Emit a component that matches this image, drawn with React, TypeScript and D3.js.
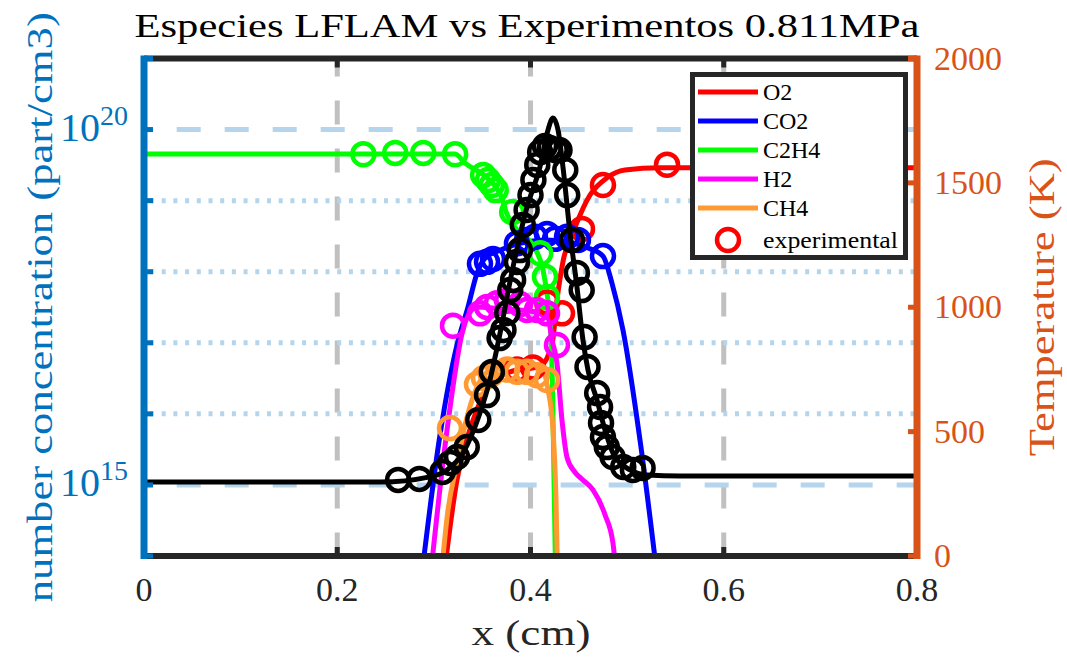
import React from "react";
import * as d3 from "d3";

// ---- model profiles (x in cm, number concentration in part/cm3) ----
const xO2 = [0.3074, 0.3239, 0.3405, 0.3581, 0.3788, 0.4098, 0.4222, 0.4274, 0.4336, 0.446, 0.4616, 0.4792, 0.4978, 0.534, 0.8];
const nO2 = [2.4e13, 1.17e15, 8.1e15, 2.6e16, 3.9e16, 4.7e16, 9.3e16, 4.0e17, 1.38e18, 4.2e18, 1.2e19, 2.1e19, 2.7e19, 2.9e19, 2.9e19];

const xCO2 = [0.2856, 0.3063, 0.3239, 0.3353, 0.3446, 0.3529, 0.3684, 0.3891, 0.415, 0.441, 0.4616, 0.475, 0.4843, 0.4957, 0.5133, 0.534];
const nCO2 = [3.3e13, 5.0e15, 9.3e16, 3.18e17, 9.5e17, 1.55e18, 2.0e18, 2.5e18, 2.8e18, 2.6e18, 2.1e18, 1.66e18, 6.9e17, 1.51e17, 4.3e15, 2.4e13];

const xC2H4 = [0, 0.322, 0.332, 0.355, 0.369, 0.376, 0.386, 0.402, 0.413, 0.418, 0.421, 0.423, 0.4264];
const nC2H4 = [4.53e19, 4.53e19, 3.39e19, 2.09e19, 1.2e19, 6.3e18, 3.89e18, 2.4e18, 1.05e18, 3.98e17, 1.51e17, 1.58e16, 2.4e13];

const xH2 = [0.2939, 0.3136, 0.33, 0.3374, 0.3446, 0.3684, 0.3995, 0.4181, 0.4222, 0.4274, 0.4326, 0.4378, 0.446, 0.4533, 0.4647, 0.4771, 0.4854, 0.4906];
const nH2 = [2.4e13, 5.9e15, 1.51e17, 2.7e17, 3.2e17, 3.0e17, 2.8e17, 2.2e17, 1.1e17, 5.2e16, 8.1e15, 2.45e15, 1.51e15, 1.2e15, 8.5e14, 3.8e14, 1.5e14, 2.4e13];

const xCH4 = [0.3053, 0.3146, 0.3239, 0.3322, 0.3405, 0.3581, 0.3819, 0.4098, 0.4181, 0.4233, 0.4264, 0.4285];
const nCH4 = [2.4e13, 4.4e14, 2.0e15, 6.9e15, 1.72e16, 4.2e16, 5.4e16, 4.7e16, 2.2e16, 5.9e15, 6.1e14, 2.4e13];

// ---- model temperature (K) ----
const xT = [0, 0.2442, 0.296, 0.3136, 0.33, 0.3477, 0.358, 0.3664, 0.3819, 0.3964, 0.4098, 0.4181, 0.4233, 0.4285, 0.4336, 0.4409, 0.4481, 0.4543, 0.4595, 0.4688, 0.4771, 0.4854, 0.503, 0.5206, 0.5547, 0.8];
const tT = [297, 297, 318, 346, 414, 575, 708, 856, 1162, 1403, 1564, 1713, 1761, 1713, 1564, 1298, 1081, 868, 748, 627, 507, 414, 346, 326, 322, 322];

// ---- experimental points ----
const exO2 = [0.386, 0.4026, 0.4171, 0.4326, 0.4533, 0.475, 0.5413];
const eyO2 = [4.2e16, 4.5e16, 3.7e17, 2.6e17, 4.0e18, 1.66e19, 3.2e19];

const exCO2 = [0.3477, 0.355, 0.3612, 0.386, 0.3964, 0.4046, 0.4171, 0.4254, 0.4378, 0.4491, 0.475];
const eyCO2 = [1.29e18, 1.38e18, 1.51e18, 2.5e18, 2.8e18, 3.1e18, 3.4e18, 2.9e18, 3.1e18, 2.8e18, 1.66e18];

const exC2H4 = [0.227, 0.26, 0.289, 0.322, 0.351, 0.356, 0.36, 0.364, 0.381, 0.41, 0.415, 0.417];
const eyC2H4 = [4.5e19, 4.7e19, 4.7e19, 4.5e19, 2.3e19, 1.95e19, 1.66e19, 1.41e19, 6.9e18, 1.82e18, 8.5e17, 4.4e17];

const exH2 = [0.3198, 0.3477, 0.355, 0.3653, 0.3757, 0.3891, 0.3964, 0.4067, 0.4171, 0.4274];
const eyH2 = [1.74e17, 2.6e17, 3.2e17, 3.6e17, 3.9e17, 3.5e17, 2.9e17, 2.9e17, 2.6e17, 9.3e16];

const exCH4 = [0.3167, 0.3446, 0.3519, 0.3591, 0.3757, 0.386, 0.3964, 0.4067, 0.4171];
const eyCH4 = [6.3e15, 2.6e16, 3.2e16, 3.6e16, 4.2e16, 3.9e16, 3.9e16, 3.5e16, 3.0e16];

const exT = [0.263, 0.285, 0.309, 0.317, 0.324, 0.334, 0.346, 0.355, 0.36, 0.368, 0.372, 0.376, 0.379, 0.382, 0.386, 0.389, 0.392, 0.396, 0.4, 0.403, 0.407, 0.41, 0.415, 0.42, 0.426, 0.43, 0.436, 0.438, 0.443, 0.448, 0.453, 0.456, 0.459, 0.469, 0.472, 0.473, 0.475, 0.479, 0.485, 0.496, 0.506, 0.516];
const eyT = [306, 310, 338, 374, 398, 438, 547, 647, 740, 876, 909, 977, 1069, 1110, 1182, 1230, 1331, 1391, 1451, 1512, 1572, 1624, 1648, 1640, 1632, 1632, 1552, 1451, 1270, 1138, 1069, 880, 760, 655, 599, 535, 478, 438, 398, 358, 346, 354];

// ---- axes ----
const xTicks = [0, 0.2, 0.4, 0.6, 0.8];
const xTickLabels = ["0", "0.2", "0.4", "0.6", "0.8"];
const leftDecades = [14, 15, 16, 17, 18, 19, 20, 21];
const leftLabeled = [15, 20];
const rightTicks = [0, 500, 1000, 1500, 2000];

const speciesNames = ["O2", "CO2", "C2H4", "H2", "CH4"];
const speciesColors = ["#ff0000", "#0000ff", "#00ff00", "#ff00ff", "#ff9933"];

const L = 144, R = 917, T = 58.5, B = 556;
const BLUE = "#0072BD";
const ORANGE = "#D95319";
const AXIS = "#262626";
const FONT = "'Liberation Serif', 'Times New Roman', serif";

export default function App() {
  const x = d3.scaleLinear().domain([0, 0.8]).range([L, R]);
  const yL = d3.scaleLog().domain([1e14, 1e21]).range([B, T]);
  const yR = d3.scaleLinear().domain([0, 2000]).range([B, T]);

  const lineOf = (xs: number[], ys: number[], ys2: (v: number) => number) =>
    d3.line<number>()
      .x((i) => x(xs[i]))
      .y((i) => ys2(ys[i]))
      .curve(d3.curveMonotoneX)(xs.map((_, i) => i)) || "";

  const models = [
    [xO2, nO2], [xCO2, nCO2], [xC2H4, nC2H4], [xH2, nH2], [xCH4, nCH4],
  ] as [number[], number[]][];
  const exps = [
    [exO2, eyO2], [exCO2, eyCO2], [exC2H4, eyC2H4], [exH2, eyH2], [exCH4, eyCH4],
  ] as [number[], number[]][];

  const MR = 11;
  const MW = 4.5;
  const LW = 5;

  return (
    <svg width={1067} height={666} style={{ display: "block", position: "absolute", left: 0, top: 0, background: "#fff" }}>
      <defs>
        <clipPath id="plotClip">
          <rect x={L} y={T} width={R - L} height={B - T} />
        </clipPath>
      </defs>
      <rect width={1067} height={666} fill="#fff" />

      {/* grid */}
      {xTicks.slice(1, -1).map((v) => (
        <line key={"vg" + v} x1={x(v)} x2={x(v)} y1={T} y2={B} stroke="#c0c0c0" strokeWidth={5}
          strokeDasharray="24 24" strokeDashoffset={6} />
      ))}
      {leftDecades.slice(1, -1).map((d) => {
        const major = leftLabeled.includes(d);
        return (
          <line key={"hg" + d} x1={L} x2={R} y1={yL(Math.pow(10, d))} y2={yL(Math.pow(10, d))}
            stroke="#b4d5eb" strokeWidth={5}
            strokeDasharray={major ? "24 24" : "4 7.7"}
            strokeDashoffset={major ? 15.3 : -6} />
        );
      })}

      {/* model curves */}
      <g clipPath="url(#plotClip)" fill="none" strokeLinejoin="round">
        {models.map(([xs, ys], i) => (
          <path key={"m" + i} d={lineOf(xs, ys, yL)} stroke={speciesColors[i]} strokeWidth={LW} />
        ))}
      </g>

      {/* experimental species */}
      <g fill="none" strokeWidth={MW}>
        {exps.map(([xs, ys], i) =>
          xs.map((v, j) => (
            <circle key={"e" + i + "-" + j} cx={x(v)} cy={yL(ys[j])} r={MR} stroke={speciesColors[i]} />
          ))
        )}
      </g>

      {/* temperature */}
      <g clipPath="url(#plotClip)">
        <path d={lineOf(xT, tT, yR)} fill="none" stroke="#000" strokeWidth={LW} strokeLinejoin="round" />
      </g>
      <g fill="none" stroke="#000" strokeWidth={MW}>
        {exT.map((v, j) => (
          <circle key={"t" + j} cx={x(v)} cy={yR(eyT[j])} r={MR} />
        ))}
      </g>

      {/* axes box */}
      <line x1={L} x2={R} y1={T} y2={T} stroke={AXIS} strokeWidth={6} />
      <line x1={L} x2={R} y1={B} y2={B} stroke={AXIS} strokeWidth={6} />
      {xTicks.map((v) => (
        <g key={"xt" + v}>
          <line x1={x(v)} x2={x(v)} y1={B} y2={B - 9} stroke={AXIS} strokeWidth={5} />
          <line x1={x(v)} x2={x(v)} y1={T} y2={T + 9} stroke={AXIS} strokeWidth={5} />
        </g>
      ))}
      <line x1={L} x2={L} y1={T - 3} y2={B + 3} stroke={BLUE} strokeWidth={7} />
      {leftDecades.map((d) => (
        <line key={"lt" + d} x1={L} x2={L + 9} y1={yL(Math.pow(10, d))} y2={yL(Math.pow(10, d))} stroke={BLUE} strokeWidth={5} />
      ))}
      <line x1={R} x2={R} y1={T - 3} y2={B + 3} stroke={ORANGE} strokeWidth={7} />
      {rightTicks.map((v) => (
        <line key={"rt" + v} x1={R} x2={R - 9} y1={yR(v)} y2={yR(v)} stroke={ORANGE} strokeWidth={5} />
      ))}

      {/* tick labels */}
      <g fontFamily={FONT} fontSize={34}>
        {xTicks.map((v, i) => (
          <text key={"xl" + v} x={x(v)} y={601} textAnchor="middle" fill={AXIS}>{xTickLabels[i]}</text>
        ))}
        {leftLabeled.map((d) => (
          <text key={"ll" + d} x={128} y={yL(Math.pow(10, d)) + 11} textAnchor="end" fill={BLUE} fontSize={40}>
            10<tspan dy={-16} fontSize={28}>{d}</tspan>
          </text>
        ))}
        {rightTicks.map((v) => (
          <text key={"rl" + v} x={934} y={yR(v) + 11} textAnchor="start" fill={ORANGE}>{v}</text>
        ))}
      </g>

      {/* labels */}
      <text x={527} y={37} textAnchor="middle" fontFamily={FONT} fontSize={34} textLength={785}
        lengthAdjust="spacingAndGlyphs" fill="#000">Especies LFLAM vs Experimentos 0.811MPa</text>
      <text x={531} y={645} textAnchor="middle" fontFamily={FONT} fontSize={36} textLength={119}
        lengthAdjust="spacingAndGlyphs" fill={AXIS}>x (cm)</text>
      <text transform={`translate(52,${(T + B) / 2}) rotate(-90)`} textAnchor="middle" fontFamily={FONT}
        fontSize={36} textLength={590} lengthAdjust="spacingAndGlyphs" fill={BLUE}>number concentration (part/cm3)</text>
      <text transform={`translate(1054,${(T + B) / 2}) rotate(-90)`} textAnchor="middle" fontFamily={FONT}
        fontSize={36} textLength={298} lengthAdjust="spacingAndGlyphs" fill={ORANGE}>Temperature (K)</text>

      {/* legend */}
      <g>
        <rect x={692.5} y={74.5} width={213} height={183} fill="#fff" stroke={AXIS} strokeWidth={5} />
        {speciesNames.map((name, i) => {
          const cy = 92 + i * 29;
          return (
            <g key={"lg" + name}>
              <line x1={698} x2={758} y1={cy} y2={cy} stroke={speciesColors[i]} strokeWidth={5} />
              <text x={763} y={cy + 8} fontFamily={FONT} fontSize={24} fill="#000">{name}</text>
            </g>
          );
        })}
        <circle cx={728} cy={240} r={MR} fill="none" stroke={speciesColors[0]} strokeWidth={MW} />
        <text x={763} y={248} fontFamily={FONT} fontSize={24} textLength={135} lengthAdjust="spacingAndGlyphs" fill="#000">experimental</text>
      </g>
    </svg>
  );
}
